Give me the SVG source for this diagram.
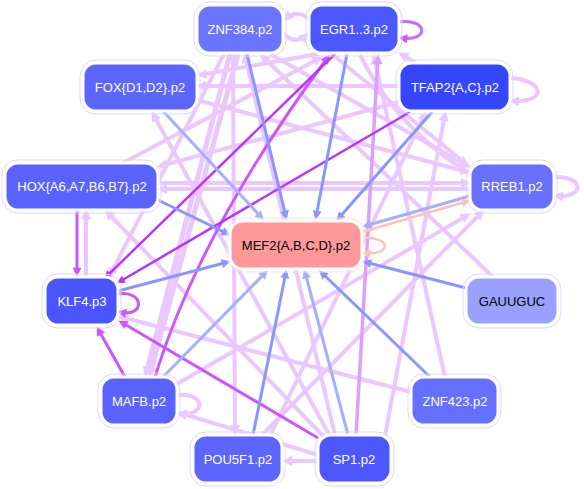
<svg xmlns="http://www.w3.org/2000/svg" width="584" height="489" viewBox="0 0 584 489">
<style>
.n{stroke:#ffffff;stroke-width:3}
.o{fill:none;stroke:#d6d9ff;stroke-width:1}
.t{font-family:"Liberation Sans",Arial,sans-serif;font-size:13px;fill:#ffffff;text-anchor:middle;dominant-baseline:central}
.k{fill:#000000}
.e{fill:none;stroke-linecap:butt}
.lv{stroke:#eac8ff;stroke-width:4}
.lp{stroke:#dd9fff;stroke-width:3.5}
.mp{stroke:#cc55ff;stroke-width:3}
.dp{stroke:#bb33ff;stroke-width:2.5}
.bl{stroke:#8a96ff;stroke-width:3}
.bll{stroke:#a6aeff;stroke-width:3}
.sa{stroke:#ffc2b8;stroke-width:2.5}
</style>
<defs>
<marker id="mLv" viewBox="0 0 10 10" refX="7" refY="5" markerWidth="12" markerHeight="10" markerUnits="userSpaceOnUse" orient="auto"><path d="M0,0 L10,5 L0,10 z" fill="#eac8ff"/></marker>
<marker id="mLp" viewBox="0 0 10 10" refX="7" refY="5" markerWidth="12" markerHeight="10" markerUnits="userSpaceOnUse" orient="auto"><path d="M0,0 L10,5 L0,10 z" fill="#dd9fff"/></marker>
<marker id="mMp" viewBox="0 0 10 10" refX="7" refY="5" markerWidth="11" markerHeight="9" markerUnits="userSpaceOnUse" orient="auto"><path d="M0,0 L10,5 L0,10 z" fill="#cc55ff"/></marker>
<marker id="mDp" viewBox="0 0 10 10" refX="7" refY="5" markerWidth="10" markerHeight="8" markerUnits="userSpaceOnUse" orient="auto"><path d="M0,0 L10,5 L0,10 z" fill="#bb33ff"/></marker>
<marker id="mBl" viewBox="0 0 10 10" refX="7" refY="5" markerWidth="11" markerHeight="9" markerUnits="userSpaceOnUse" orient="auto"><path d="M0,0 L10,5 L0,10 z" fill="#8a96ff"/></marker>
<marker id="mBll" viewBox="0 0 10 10" refX="7" refY="5" markerWidth="11" markerHeight="9" markerUnits="userSpaceOnUse" orient="auto"><path d="M0,0 L10,5 L0,10 z" fill="#a6aeff"/></marker>
<marker id="mSa" viewBox="0 0 10 10" refX="7" refY="5" markerWidth="11" markerHeight="9" markerUnits="userSpaceOnUse" orient="auto"><path d="M0,0 L10,5 L0,10 z" fill="#ffc2b8"/></marker>
</defs>
<rect width="584" height="489" fill="#ffffff"/>
<g id="connectors">
<path class="e lv" d="M310,20 C302,12 293,12 286,19" marker-end="url(#mLv)"/>
<path class="e lv" d="M284,34 C292,42 300,41 307,35" marker-end="url(#mLv)"/>
<path class="e lv" d="M416,63 L401,54" marker-end="url(#mLv)"/>
<path class="e lv" d="M399,86 L199,86" marker-end="url(#mLv)"/>
<path class="e lv" d="M318,54 L200,75" marker-end="url(#mLv)"/>
<path class="e lv" d="M470,189 L160,189" marker-end="url(#mLv)"/>
<path class="e lv" d="M158,183 L468,183" marker-end="url(#mLv)"/>
<path class="e lv" style="stroke-width:5" d="M230,54 L146,374" marker-end="url(#mLv)"/>
<path class="e lv" style="stroke-width:5" d="M238,54 L150,374" marker-end="url(#mLv)"/>
<path class="e lv" d="M224,54 L110,275" marker-end="url(#mLv)"/>
<path class="e lv" d="M233,54 L235,432" marker-end="url(#mLv)"/>
<path class="e lv" d="M330,436 L153,114" marker-end="url(#mLv)"/>
<path class="e lv" d="M325,438 L107,212" marker-end="url(#mLv)"/>
<path class="e lv" d="M411,392 L121,317" marker-end="url(#mLv)"/>
<path class="e lv" d="M318,455 L180,413" marker-end="url(#mLv)"/>
<path class="e lv" d="M318,461 L285,461" marker-end="url(#mLv)"/>
<path class="e lv" d="M177,384 L468,215" marker-end="url(#mLv)"/>
<path class="e lv" d="M262,435 L482,212" marker-end="url(#mLv)"/>
<path class="e lv" d="M445,377 L374,57" marker-end="url(#mLv)"/>
<path class="e lv" d="M493,277 L262,56" marker-end="url(#mLv)"/>
<path class="e lv" d="M270,54 L468,166" marker-end="url(#mLv)"/>
<path class="e lv" d="M197,100 L468,172" marker-end="url(#mLv)"/>
<path class="e lv" d="M385,436 L445,114" marker-end="url(#mLv)"/>
<path class="e lv" d="M270,436 L425,114" marker-end="url(#mLv)"/>
<path class="e lv" d="M123,163 L320,58" marker-end="url(#mLv)"/>
<path class="e lv" d="M399,102 L160,166" marker-end="url(#mLv)"/>
<path class="e lv" d="M332,54 L466,164" marker-end="url(#mLv)"/>
<path class="e lv" d="M360,55 Q395,125 464,170" marker-end="url(#mLv)"/>
<path class="e lv" d="M335,435 L245,56" marker-end="url(#mLv)"/>
<path class="e lv" d="M86,277 L86,212" marker-end="url(#mLv)"/>
<path class="e lv" d="M510,78 C545,80 548,103 512,101" marker-end="url(#mLv)"/>
<path class="e lv" d="M554,177 C585,176 585,198 556,196" marker-end="url(#mLv)"/>
<path class="e lv" d="M177,395 C205,392 208,416 179,414" marker-end="url(#mLv)"/>
<path class="e lp" d="M356,435 L378,57" marker-end="url(#mLp)"/>
<path class="e mp" d="M155,377 Q200,230 328,57" marker-end="url(#mMp)"/>
<path class="e mp" d="M125,377 L98,329" marker-end="url(#mMp)"/>
<path class="e mp" d="M318,438 L121,322" marker-end="url(#mMp)"/>
<path class="e mp" d="M77,210 L77,274" marker-end="url(#mMp)"/>
<path class="e mp" d="M118,294 C145,290 145,318 120,312" marker-end="url(#mMp)"/>
<path class="e" style="stroke:#cc66ff;stroke-width:3" d="M399,22 C428,18 430,42 401,38" marker-end="url(#mMp)"/>
<path class="e dp" d="M335,54 L106,277" marker-end="url(#mDp)"/>
<path class="e dp" d="M410,112 L119,282" marker-end="url(#mDp)"/>
<path class="e bl" d="M247,54 L286,217" marker-end="url(#mBl)"/>
<path class="e bl" d="M347,54 L316,217" marker-end="url(#mBl)"/>
<path class="e bll" d="M163,111 L262,218" marker-end="url(#mBll)"/>
<path class="e bl" d="M432,112 L338,219" marker-end="url(#mBl)"/>
<path class="e bl" d="M158,200 L228,234" marker-end="url(#mBl)"/>
<path class="e bll" d="M470,196 L365,226" marker-end="url(#mBll)"/>
<path class="e bl" d="M118,291 L228,262" marker-end="url(#mBl)"/>
<path class="e bl" d="M466,288 L365,262" marker-end="url(#mBl)"/>
<path class="e bll" d="M163,377 L266,272" marker-end="url(#mBll)"/>
<path class="e bl" d="M430,377 L321,272" marker-end="url(#mBl)"/>
<path class="e bll" d="M348,435 L305,272" marker-end="url(#mBll)"/>
<path class="e bl" d="M253,435 L286,272" marker-end="url(#mBl)"/>
<path class="e sa" d="M362,232 L468,201" marker-end="url(#mSa)"/>
<path class="e sa" d="M362,238 C392,236 392,256 364,253" marker-end="url(#mSa)"/>
</g>
<g id="node-ZNF384"><rect class="o" x="194" y="2" width="92" height="54" rx="16"/><rect class="n" x="197" y="5" width="86" height="48" rx="13" fill="#6b74ff"/><text class="t" x="240" y="29">ZNF384.p2</text></g>
<g id="node-EGR"><rect class="o" x="306" y="2" width="96" height="54" rx="16"/><rect class="n" x="309" y="5" width="90" height="48" rx="13" fill="#4a58ff"/><text class="t" x="354" y="29">EGR1..3.p2</text></g>
<g id="node-FOX"><rect class="o" x="80" y="60" width="120" height="54" rx="16"/><rect class="n" x="83" y="63" width="114" height="48" rx="13" fill="#5c66ff"/><text class="t" x="140" y="87">FOX{D1,D2}.p2</text></g>
<g id="node-TFAP2"><rect class="o" x="396" y="60" width="117" height="54" rx="16"/><rect class="n" x="399" y="63" width="111" height="48" rx="13" fill="#3646ff"/><text class="t" x="455" y="87">TFAP2{A,C}.p2</text></g>
<g id="node-HOX"><rect class="o" x="2" y="160" width="159" height="53" rx="16"/><rect class="n" x="5" y="163" width="153" height="47" rx="13" fill="#5a63ff"/><text class="t" x="82" y="186">HOX{A6,A7,B6,B7}.p2</text></g>
<g id="node-RREB1"><rect class="o" x="467" y="160" width="90" height="53" rx="16"/><rect class="n" x="470" y="163" width="84" height="47" rx="13" fill="#6770ff"/><text class="t" x="512" y="186">RREB1.p2</text></g>
<g id="node-MEF2"><rect class="o" x="227" y="218" width="138" height="54" rx="16" style="stroke:#ffe0dc"/><rect class="n" x="230" y="221" width="132" height="48" rx="13" fill="#ff9999"/><text class="t k" x="296" y="245">MEF2{A,B,C,D}.p2</text></g>
<g id="node-KLF4"><rect class="o" x="42" y="274" width="79" height="54" rx="16"/><rect class="n" x="45" y="277" width="73" height="48" rx="13" fill="#4b55ff"/><text class="t" x="82" y="301">KLF4.p3</text></g>
<g id="node-GAUUGUC"><rect class="o" x="463" y="274" width="98" height="54" rx="16"/><rect class="n" x="466" y="277" width="92" height="48" rx="13" fill="#99a0ff"/><text class="t k" x="512" y="301">GAUUGUC</text></g>
<g id="node-MAFB"><rect class="o" x="98" y="374" width="82" height="54" rx="16"/><rect class="n" x="101" y="377" width="76" height="48" rx="13" fill="#5a63ff"/><text class="t" x="139" y="401">MAFB.p2</text></g>
<g id="node-ZNF423"><rect class="o" x="408" y="374" width="93" height="54" rx="16"/><rect class="n" x="411" y="377" width="87" height="48" rx="13" fill="#6670ff"/><text class="t" x="455" y="401">ZNF423.p2</text></g>
<g id="node-POU5F1"><rect class="o" x="190" y="432" width="95" height="54" rx="16"/><rect class="n" x="193" y="435" width="89" height="48" rx="13" fill="#5c66ff"/><text class="t" x="238" y="459">POU5F1.p2</text></g>
<g id="node-SP1"><rect class="o" x="315" y="432" width="79" height="54" rx="16"/><rect class="n" x="318" y="435" width="73" height="48" rx="13" fill="#4d57ff"/><text class="t" x="354" y="459">SP1.p2</text></g>
</svg>
